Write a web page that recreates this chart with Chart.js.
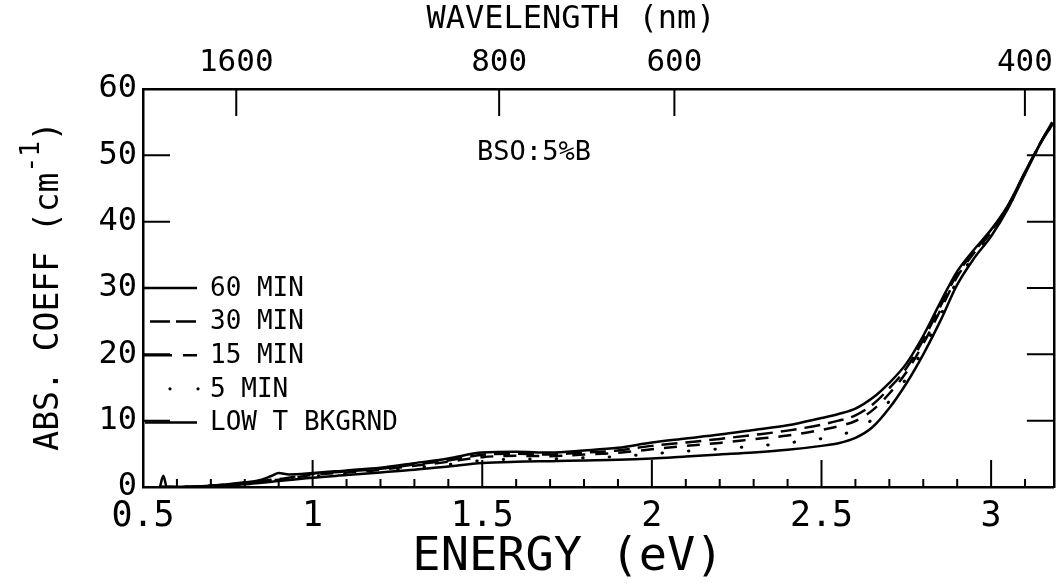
<!DOCTYPE html>
<html>
<head>
<meta charset="utf-8">
<script src="https://cdn.jsdelivr.net/npm/chart.js@4.4.0/dist/chart.umd.min.js"></script>
<style>
  html, body { margin: 0; padding: 0; background: #fff; }
  canvas { display: block; }
</style>
</head>
<body>
<canvas id="absChart" width="1060" height="584"></canvas>
<script>
// Photon energy sampling (eV)
const energyEV = [0.55, 0.56, 0.57, 0.6, 0.7, 0.8, 0.85, 0.88, 0.9, 0.93, 1.0, 1.1, 1.2, 1.3, 1.4, 1.5, 1.6, 1.7, 1.8, 1.9,
                  2.0, 2.1, 2.2, 2.3, 2.4, 2.5, 2.55, 2.6, 2.65, 2.7, 2.75, 2.8, 2.85, 2.9, 2.95, 3.0, 3.05, 3.1, 3.15, 3.18];

// Absorption coefficient (cm^-1) after each illumination time
const abs60min = [0, 1.7, 0, 0, 0.2, 0.7, 1.1, 1.7, 2.1, 1.9, 2.1, 2.5, 2.9, 3.6, 4.3, 5.2, 5.3, 5.2, 5.5, 5.9,
                  6.7, 7.3, 7.9, 8.6, 9.3, 10.4, 11.0, 11.8, 13.4, 15.7, 18.6, 22.8, 27.8, 32.5, 35.8, 38.8, 42.5, 47.5, 52.3, 55.0];
const abs30min = [0, 0, 0, 0, 0.2, 0.6, 0.9, 1.1, 1.2, 1.4, 2.0, 2.35, 2.75, 3.4, 4.0, 4.85, 5.0, 4.9, 5.2, 5.5,
                  6.2, 6.7, 7.25, 7.85, 8.5, 9.4, 10.0, 10.8, 12.4, 14.9, 17.9, 22.2, 27.2, 32.1, 35.5, 38.6, 42.4, 47.4, 52.3, 54.9];
const abs15min = [0, 0, 0, 0, 0.15, 0.6, 0.85, 1.0, 1.1, 1.3, 1.8, 2.2, 2.6, 3.2, 3.8, 4.5, 4.7, 4.65, 4.9, 5.15,
                  5.7, 6.2, 6.65, 7.2, 7.75, 8.6, 9.15, 9.95, 11.55, 14.1, 17.3, 21.6, 26.6, 31.7, 35.3, 38.4, 42.3, 47.4, 52.3, 54.8];
const abs5min  = [0, 0, 0, 0, 0.1, 0.5, 0.75, 0.9, 1.0, 1.15, 1.6, 2.0, 2.4, 2.9, 3.4, 4.0, 4.2, 4.25, 4.4, 4.6,
                  5.0, 5.4, 5.75, 6.15, 6.65, 7.3, 7.8, 8.6, 10.2, 12.95, 16.4, 20.8, 25.8, 31.1, 34.9, 38.1, 42.1, 47.3, 52.2, 54.7];
const absLowT  = [0, 0, 0, 0, 0.1, 0.4, 0.65, 0.8, 0.9, 1.05, 1.4, 1.8, 2.2, 2.6, 3.1, 3.6, 3.8, 3.9, 4.0, 4.1,
                  4.3, 4.6, 4.9, 5.2, 5.6, 6.2, 6.6, 7.4, 9.0, 11.9, 15.6, 20.0, 25.0, 30.5, 34.5, 37.8, 42.0, 47.2, 52.2, 54.6];

// Axis ticks
const energyTicks = [0.5, 1, 1.5, 2, 2.5, 3];
const wavelengthTicks = [1600, 800, 600, 400];
const absTicks = [0, 10, 20, 30, 40, 50, 60];
const seriesLabels = ['60 MIN', '30 MIN', '15 MIN', '5 MIN', 'LOW T BKGRND'];
const sampleLabel = 'BSO:5%B';
const energyTitle = 'ENERGY (eV)';
const wavelengthTitle = 'WAVELENGTH (nm)';

const HC_EV_NM = 1239.84;   // E(eV) = hc / lambda(nm)
const E_MIN = 0.5, E_MAX = 3.185;
const FONT = '"DejaVu Sans Mono", "Liberation Mono", monospace';
const INK = '#000';

function points(ys) {
  return energyEV.map((e, i) => ({ x: e, y: ys[i] }));
}

function lineSet(label, ys, dash, extra) {
  return Object.assign({
    label: label,
    data: points(ys),
    borderColor: INK,
    borderWidth: 2.5,
    borderDash: dash,
    pointRadius: 0,
    fill: false,
    tension: 0,
    cubicInterpolationMode: 'monotone'
  }, extra || {});
}

// Inward tick marks on all four sides
const inwardTicks = {
  id: 'inwardTicks',
  afterDatasetsDraw(chart) {
    const { ctx, chartArea: a, scales } = chart;
    const x = scales.x, y = scales.y;
    ctx.save();
    ctx.strokeStyle = INK;
    ctx.lineWidth = 2;
    ctx.beginPath();
    const majorLen = 27, minorLen = 8;
    energyTicks.forEach(v => {
      if (v <= E_MIN) return;
      const px = x.getPixelForValue(v);
      ctx.moveTo(px, a.bottom); ctx.lineTo(px, a.bottom - majorLen);
    });
    for (let k = 6; k <= 31; k++) {
      if (k % 5 === 0) continue;
      const px = x.getPixelForValue(k / 10);
      ctx.moveTo(px, a.bottom); ctx.lineTo(px, a.bottom - minorLen);
    }
    wavelengthTicks.forEach(w => {
      const px = x.getPixelForValue(HC_EV_NM / w);
      ctx.moveTo(px, a.top); ctx.lineTo(px, a.top + majorLen);
    });
    absTicks.forEach(v => {
      if (v <= 0 || v >= 60) return;
      const py = y.getPixelForValue(v);
      ctx.moveTo(a.left, py); ctx.lineTo(a.left + majorLen, py);
      ctx.moveTo(a.right, py); ctx.lineTo(a.right - majorLen, py);
    });
    ctx.stroke();
    ctx.restore();
  }
};

// Axis titles: vertical one with a raised exponent, horizontal ones set left of centre
const axisTitles = {
  id: 'axisTitles',
  afterDraw(chart) {
    const { ctx, chartArea: a } = chart;
    ctx.save();
    ctx.fillStyle = INK;
    ctx.textBaseline = 'middle';
    ctx.textAlign = 'center';
    ctx.font = '47px ' + FONT;
    ctx.fillText(energyTitle, 568, 558);
    ctx.font = '32px ' + FONT;
    ctx.fillText(wavelengthTitle, 571, 20);

    const main = 'ABS. COEFF (cm', sup = '-1', close = ')';
    ctx.translate(49, (a.top + a.bottom) / 2 - 2);
    ctx.rotate(-Math.PI / 2);
    ctx.textAlign = 'left';
    ctx.font = '33px ' + FONT;
    const w1 = ctx.measureText(main).width, w3 = ctx.measureText(close).width;
    ctx.font = '26px ' + FONT;
    const w2 = ctx.measureText(sup).width;
    const x0 = -(w1 + w2 + w3) / 2;
    ctx.font = '33px ' + FONT;
    ctx.fillText(main, x0, 0);
    ctx.font = '26px ' + FONT;
    ctx.fillText(sup, x0 + w1, -17);
    ctx.font = '33px ' + FONT;
    ctx.fillText(close, x0 + w1 + w2, 0);
    ctx.restore();
  }
};

// Key at the left of the plot and the sample name
const keyAndNote = {
  id: 'keyAndNote',
  afterDatasetsDraw(chart) {
    const { ctx, chartArea: a } = chart;
    ctx.save();
    ctx.strokeStyle = INK;
    ctx.fillStyle = INK;
    ctx.lineWidth = 2.5;
    const rowTop = a.top + 199, rowStep = 33.6;
    const x0 = a.left, x1 = a.left + 54;
    const rows = [
      { dash: [], from: x0 },
      { dash: [20, 6], from: x0 + 7 },
      { dash: [29, 11, 14, 100], from: x0 },
      { dash: null, from: x0 },
      { dash: [], from: x0 + 2 }
    ];
    rows.forEach((r, i) => {
      const yy = rowTop + i * rowStep;
      if (r.dash === null) {
        [x0 + 27, x0 + 55].forEach(dx => {
          ctx.beginPath(); ctx.arc(dx, yy, 1.6, 0, Math.PI * 2); ctx.fill();
        });
      } else {
        ctx.setLineDash(r.dash);
        ctx.beginPath(); ctx.moveTo(r.from, yy); ctx.lineTo(x1, yy); ctx.stroke();
        ctx.setLineDash([]);
      }
      ctx.font = '26px ' + FONT;
      ctx.textAlign = 'left';
      ctx.textBaseline = 'middle';
      ctx.fillText(seriesLabels[i], a.left + 67, yy + 1);
    });
    ctx.font = '27px ' + FONT;
    ctx.textAlign = 'center';
    ctx.textBaseline = 'middle';
    ctx.fillText(sampleLabel, 534, 153);
    ctx.restore();
  }
};

new Chart(document.getElementById('absChart'), {
  type: 'line',
  data: {
    datasets: [
      lineSet(seriesLabels[0], abs60min, []),
      lineSet(seriesLabels[1], abs30min, [16, 8]),
      lineSet(seriesLabels[2], abs15min, [13, 10]),
      lineSet(seriesLabels[3], abs5min, [0.5, 26], { borderCapStyle: 'round', borderWidth: 3 }),
      lineSet(seriesLabels[4], absLowT, [])
    ]
  },
  options: {
    responsive: false,
    animation: false,
    devicePixelRatio: 1,
    layout: { padding: 0 },
    plugins: { legend: { display: false }, tooltip: { enabled: false } },
    scales: {
      x: {
        type: 'linear', position: 'bottom', min: E_MIN, max: E_MAX,
        afterBuildTicks: s => { s.ticks = energyTicks.map(v => ({ value: v })); },
        afterFit: s => { s.height = 97; },
        ticks: { callback: v => String(v), font: { family: FONT, size: 35 }, color: INK, padding: 9, maxRotation: 0, autoSkip: false },
        grid: { display: false, drawTicks: false },
        border: { display: true, color: INK, width: 2.5 },
        title: { display: false }
      },
      x2: {
        type: 'linear', position: 'top', min: E_MIN, max: E_MAX,
        afterBuildTicks: s => { s.ticks = wavelengthTicks.map(w => ({ value: HC_EV_NM / w })); },
        afterFit: s => { s.height = 89; },
        ticks: { callback: (v, i) => String(wavelengthTicks[i]), font: { family: FONT, size: 31 }, color: INK, padding: 7, maxRotation: 0, autoSkip: false },
        grid: { display: false, drawTicks: false },
        border: { display: true, color: INK, width: 2.5 },
        title: { display: false }
      },
      y: {
        type: 'linear', position: 'left', min: 0, max: 60,
        afterBuildTicks: s => { s.ticks = absTicks.map(v => ({ value: v })); },
        afterFit: s => { s.width = 143; },
        ticks: { callback: v => String(v), font: { family: FONT, size: 32 }, color: INK, padding: 6, autoSkip: false },
        grid: { display: false, drawTicks: false },
        border: { display: true, color: INK, width: 2.5 },
        title: { display: false }
      },
      y2: {
        type: 'linear', position: 'right', min: 0, max: 60,
        afterFit: s => { s.width = 3; },
        ticks: { display: false },
        grid: { display: false, drawTicks: false },
        border: { display: true, color: INK, width: 2.5 }
      }
    }
  },
  plugins: [inwardTicks, keyAndNote, axisTitles]
});
</script>
</body>
</html>
